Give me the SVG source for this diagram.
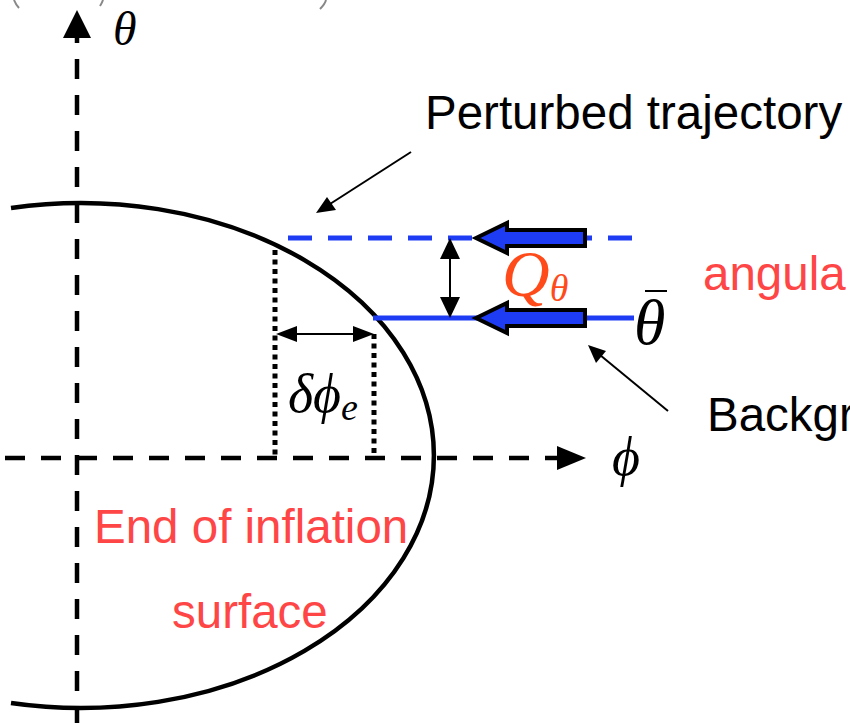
<svg xmlns="http://www.w3.org/2000/svg" width="850" height="723" viewBox="0 0 850 723">
<style>
.lbl{font-family:"Liberation Sans",Arial,sans-serif;font-size:47.5px}
.red{fill:#ff4646}
.math{font-family:"Liberation Serif","DejaVu Serif",serif;font-style:italic}
.axis{stroke:#000;stroke-width:4.5;fill:none;stroke-dasharray:20 16}
.dot{stroke:#000;stroke-width:5;fill:none;stroke-dasharray:5 4.5}
.thin{stroke:#000;stroke-width:2;fill:none}
.fat{fill:#1f3cf5;stroke:#000;stroke-width:4;stroke-linejoin:miter}
.blue{stroke:#1f3cf5;stroke-width:5;fill:none}
</style>
<rect width="850" height="723" fill="#fff"/>
<g id="clipped-top" stroke="#888" stroke-width="2" fill="none">
<path d="M14 0 Q16 5 19 8"/>
<path d="M103 0 Q102 3 100 6"/>
<path d="M326 0 Q325 4 320 9"/>
</g>
<g id="surface">
<path d="M11 208 A353 252.5 0 1 1 11 703" stroke="#000" stroke-width="4.5" fill="none"/>
</g>
<g id="axes">
<line class="axis" x1="77" y1="723" x2="77" y2="38" stroke-dashoffset="4"/>
<polygon points="77,10 63,38 91,38" fill="#000"/>
<line class="axis" x1="0" y1="458" x2="558" y2="458" stroke-dashoffset="-5"/>
<polygon points="586,458 557,446 557,470" fill="#000"/>
</g>
<g id="trajectories">
<line class="blue" x1="288" y1="238" x2="636" y2="238" stroke-dasharray="24 16"/>
<line class="blue" x1="373" y1="318" x2="634" y2="318"/>
</g>
<g id="force-arrows">
<polygon class="fat" points="476,238 507,223 507,230 585,230 585,246 507,246 507,253"/>
<polygon class="fat" points="476,318 507,303 507,310 585,310 585,326 507,326 507,333"/>
</g>
<g id="dotted">
<line class="dot" x1="275" y1="250" x2="275" y2="456"/>
<line class="dot" x1="374" y1="334" x2="374" y2="456"/>
</g>
<g id="connectors">
<line class="thin" x1="450" y1="258" x2="450" y2="298"/>
<polygon points="450,238 440,259 460,259" fill="#000"/>
<polygon points="450,318 440,297 460,297" fill="#000"/>
<line class="thin" x1="294" y1="334" x2="356" y2="334"/>
<polygon points="276,334 297,326 297,342" fill="#000"/>
<polygon points="374,334 353,326 353,342" fill="#000"/>
<line class="thin" x1="411" y1="152" x2="330" y2="204"/>
<polygon points="316,213 327,197 336,210" fill="#000"/>
<line class="thin" x1="668" y1="411" x2="600" y2="355"/>
<polygon points="588,345 596,363 606,351" fill="#000"/>
</g>
<g id="labels">
<text class="lbl" x="425" y="129">Perturbed trajectory</text>
<text class="lbl red" x="703" y="290" font-size="50">angula</text>
<text class="lbl" x="707" y="431">Backgr</text>
<text class="lbl red" x="94" y="543">End of inflation</text>
<text class="lbl red" x="172" y="628">surface</text>
</g>
<g id="math">
<text class="math" x="113" y="45" font-size="48">θ</text>
<text class="math" x="612" y="475" font-size="54">ϕ</text>
<text class="math" x="288" y="412" font-size="54">δϕ<tspan font-size="38" dy="8">e</tspan></text>
<line x1="645" y1="291" x2="667" y2="291" stroke="#000" stroke-width="2"/>
<text class="math" x="634" y="344" font-size="64">θ</text>
<text class="math" x="502" y="296" font-size="66" fill="#ff4a1a">Q<tspan font-size="38" dy="5">θ</tspan></text>
</g>
</svg>
